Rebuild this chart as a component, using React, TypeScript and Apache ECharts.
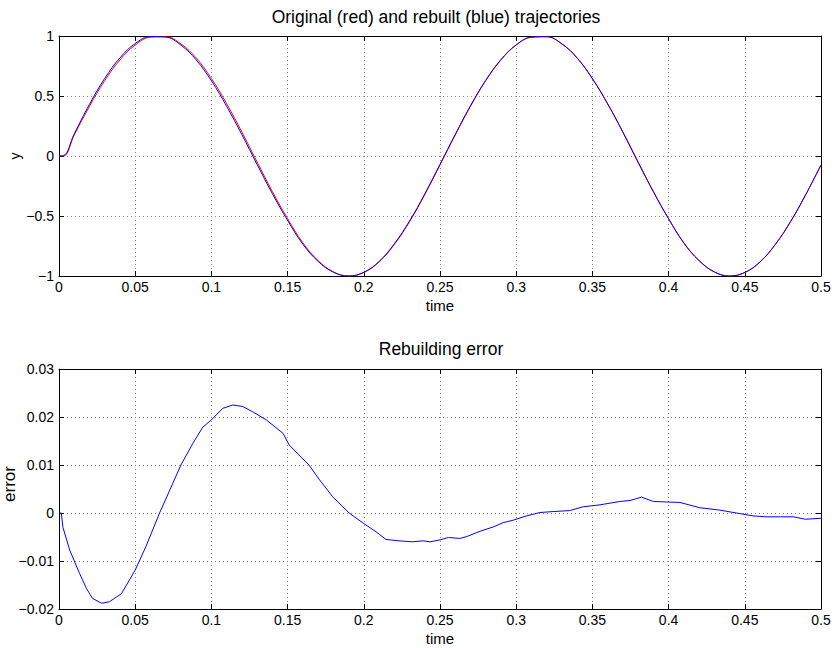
import React, { useEffect, useRef } from "react";
import * as echarts from "echarts";

// Top plot: time samples and trajectories
const trajTime = [0, 0.003, 0.01, 0.02, 0.03, 0.04, 0.05, 0.06, 0.07, 0.08, 0.09, 0.1, 0.11, 0.12, 0.13, 0.14, 0.15, 0.16, 0.17, 0.18, 0.19, 0.2, 0.21, 0.22, 0.23, 0.24, 0.25, 0.26, 0.27, 0.28, 0.29, 0.3, 0.31, 0.32, 0.33, 0.34, 0.35, 0.36, 0.37, 0.38, 0.39, 0.4, 0.41, 0.42, 0.43, 0.44, 0.45, 0.46, 0.47, 0.48, 0.49, 0.5];
const original = [0, 0, 0.175, 0.414, 0.628, 0.801, 0.925, 0.99, 0.994, 0.934, 0.817, 0.646, 0.436, 0.2, -0.05, -0.296, -0.522, -0.723, -0.871, -0.965, -1.0, -0.971, -0.883, -0.738, -0.548, -0.322, -0.075, 0.175, 0.414, 0.628, 0.801, 0.925, 0.99, 0.994, 0.934, 0.817, 0.646, 0.436, 0.2, -0.05, -0.296, -0.522, -0.723, -0.871, -0.965, -1.0, -0.971, -0.883, -0.738, -0.548, -0.322, -0.075];
const rebuilt = [0, 0.003, 0.185, 0.431, 0.647, 0.818, 0.937, 0.995, 0.991, 0.924, 0.801, 0.627, 0.414, 0.178, -0.071, -0.314, -0.537, -0.734, -0.878, -0.968, -1.0, -0.969, -0.879, -0.732, -0.542, -0.316, -0.069, 0.18, 0.419, 0.631, 0.803, 0.926, 0.99, 0.994, 0.934, 0.816, 0.644, 0.434, 0.198, -0.053, -0.298, -0.524, -0.725, -0.872, -0.966, -1.0, -0.971, -0.882, -0.737, -0.547, -0.321, -0.074];

// Bottom plot: rebuilding error
const errTime = [0, 0.0015, 0.0026, 0.007, 0.0135, 0.018, 0.022, 0.028, 0.033, 0.041, 0.05, 0.057, 0.066, 0.0747, 0.08, 0.0878, 0.0944, 0.1, 0.1074, 0.114, 0.1205, 0.127, 0.136, 0.147, 0.151, 0.164, 0.171, 0.1795, 0.1904, 0.2, 0.208, 0.2145, 0.223, 0.232, 0.239, 0.2435, 0.25, 0.2555, 0.263, 0.2676, 0.2763, 0.285, 0.2915, 0.298, 0.3068, 0.3155, 0.3243, 0.335, 0.344, 0.355, 0.368, 0.3746, 0.3822, 0.39, 0.3987, 0.4074, 0.4205, 0.4336, 0.4445, 0.4554, 0.464, 0.4733, 0.482, 0.4897, 0.5];
const errValue = [0, 0, -0.003, -0.0077, -0.0126, -0.0157, -0.0178, -0.0188, -0.0185, -0.0168, -0.0119, -0.007, 0, 0.0062, 0.01, 0.0145, 0.0179, 0.0194, 0.0218, 0.0225, 0.0222, 0.0211, 0.0194, 0.0166, 0.0142, 0.01, 0.0069, 0.0034, 0, -0.0022, -0.0039, -0.0055, -0.0058, -0.006, -0.0058, -0.006, -0.0056, -0.0051, -0.0053, -0.0049, -0.0038, -0.0029, -0.002, -0.0015, -0.0006, 0.0001, 0.0003, 0.0005, 0.0013, 0.0017, 0.0024, 0.0026, 0.0033, 0.0024, 0.0023, 0.0022, 0.0011, 0.0006, 0, -0.0006, -0.0008, -0.0008, -0.0008, -0.0013, -0.0011];

const titles = ["Original (red) and rebuilt (blue) trajectories", "Rebuilding error"];
const xName = "time";
const yNames = ["y", "error"];

const FONT = "'Liberation Sans', Arial, Helvetica, sans-serif";
const fmt = (v: number) => {
  const s = String(+v.toFixed(4));
  return s.replace("-", "\u2212");
};

export default function App() {
  const ref = useRef<HTMLDivElement>(null);
  useEffect(() => {
    if (!ref.current) return;
    const chart = echarts.init(ref.current, null, { renderer: "svg" });
    const gridLine = { show: true, lineStyle: { color: "#8c8c8c", type: [1, 3] as any, width: 1 } };
    const tickIn = { show: true, inside: true, length: 5, lineStyle: { color: "#000" } };
    const axisLine = { show: true, onZero: false, lineStyle: { color: "#000", width: 1 } };
    const labelStyle = { color: "#000", fontSize: 14, fontFamily: FONT };
    const grids = [
      { left: 59, top: 36, width: 762, height: 240, show: false, containLabel: false, outerBoundsMode: "none" },
      { left: 59, top: 369, width: 762, height: 240, show: false, containLabel: false, outerBoundsMode: "none" },
    ];
    const yRanges = [
      { min: -1, max: 1, interval: 0.5 },
      { min: -0.02, max: 0.03, interval: 0.01 },
    ];
    const yNameStyles = [
      { fontSize: 14 },
      { fontSize: 17, lineHeight: 16, padding: [0, 0, 0, 10] },
    ];
    const yNameGap = [37, 42];
    const xAxes: any[] = [];
    const yAxes: any[] = [];
    [0, 1].forEach((g) => {
      xAxes.push({
        type: "value", gridIndex: g, min: 0, max: 0.5, interval: 0.05, position: "bottom",
        axisLine, axisTick: tickIn, splitLine: gridLine,
        axisLabel: { ...labelStyle, margin: 4, formatter: fmt },
        name: xName, nameLocation: "middle", nameGap: 22, nameMoveOverlap: false,
        nameTextStyle: { ...labelStyle, fontSize: 15 },
      });
      xAxes.push({
        type: "value", gridIndex: g, min: 0, max: 0.5, interval: 0.05, position: "top",
        axisLine, axisTick: tickIn, splitLine: { show: false }, axisLabel: { show: false },
      });
      yAxes.push({
        type: "value", gridIndex: g, ...yRanges[g], position: "left",
        axisLine, axisTick: tickIn, splitLine: gridLine,
        axisLabel: { ...labelStyle, margin: 5, formatter: fmt },
        name: yNames[g], nameLocation: "middle", nameGap: yNameGap[g], nameMoveOverlap: false,
        nameTextStyle: { ...labelStyle, ...yNameStyles[g] },
      });
      yAxes.push({
        type: "value", gridIndex: g, ...yRanges[g], position: "right",
        axisLine, axisTick: tickIn, splitLine: { show: false }, axisLabel: { show: false },
      });
    });
    const titleStyle = { ...labelStyle, fontSize: 17.5, fontWeight: "normal" };
    chart.setOption({
      animation: false,
      backgroundColor: "#fff",
      title: [
        { text: titles[0], left: 436, top: 8, textAlign: "center", textStyle: titleStyle, padding: 0 },
        { text: titles[1], left: 441, top: 340, textAlign: "center", textStyle: titleStyle, padding: 0 },
      ],
      grid: grids,
      xAxis: xAxes,
      yAxis: yAxes,
      series: [
        {
          type: "line", xAxisIndex: 0, yAxisIndex: 0, showSymbol: false, smooth: 0.4,
          data: trajTime.map((t, i) => [t, original[i]]),
          lineStyle: { color: "#ff0000", width: 1 }, clip: true,
        },
        {
          type: "line", xAxisIndex: 0, yAxisIndex: 0, showSymbol: false, smooth: 0.4,
          data: trajTime.map((t, i) => [t, rebuilt[i]]),
          lineStyle: { color: "#0000ff", width: 1 }, clip: true,
        },
        {
          type: "line", xAxisIndex: 2, yAxisIndex: 2, showSymbol: false,
          data: errTime.map((t, i) => [t, errValue[i]]),
          lineStyle: { color: "#0000ff", width: 1 }, clip: true,
        },
      ],
    });
    return () => chart.dispose();
  }, []);
  return (
    <div
      ref={ref}
      style={{ position: "absolute", left: 0, top: 0, width: 834, height: 648, background: "#fff" }}
    />
  );
}
